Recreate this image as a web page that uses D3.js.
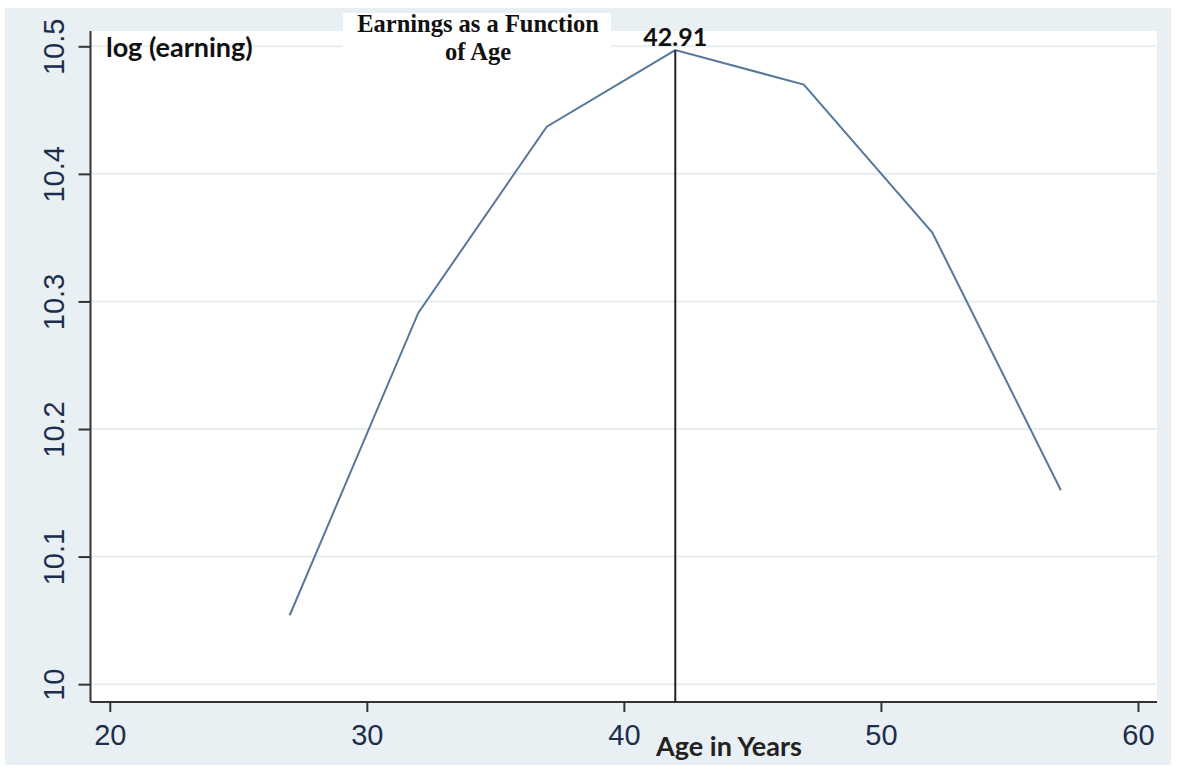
<!DOCTYPE html>
<html><head><meta charset="utf-8">
<script src="https://cdn.jsdelivr.net/npm/d3@7"></script>
<style>html,body{margin:0;padding:0;background:#fff;}svg{display:block;}</style>
</head><body>
<script>
// ---- data ----
const ages = [27, 32, 37, 42, 47, 52, 57];
const logEarnings = [10.054, 10.291, 10.437, 10.497, 10.470, 10.354, 10.152];
const xTicks = [20, 30, 40, 50, 60];
const yTicks = [10, 10.1, 10.2, 10.3, 10.4, 10.5];
const peakAge = 42;
const peakLabel = "42.91";
const yLabel = "log (earning)";
const xLabel = "Age in Years";
const titleLines = ["Earnings as a Function", "of Age"];

const W = 1177, H = 770;
const svg = d3.select("body").append("svg").attr("width", W).attr("height", H);

// outer panel
svg.append("rect").attr("x", 5).attr("y", 8).attr("width", 1166).attr("height", 757).attr("fill", "#e8f0f3");

const x = d3.scaleLinear().domain([19.25, 60.74]).range([90.5, 1157]);
const y = d3.scaleLinear().domain([9.986, 10.512]).range([702, 31]);

// plot region
svg.append("rect").attr("x", x(19.25)).attr("y", y(10.512)).attr("width", x(60.74) - x(19.25)).attr("height", y(9.986) - y(10.512)).attr("fill", "#ffffff");

// gridlines
svg.append("g").selectAll("line").data(yTicks).join("line")
  .attr("x1", x(19.25)).attr("x2", x(60.74))
  .attr("y1", d => y(d)).attr("y2", d => y(d))
  .attr("stroke", "#e6eeef").attr("stroke-width", 2);

const tickColor = "#1f2d4d";
// y axis
const yAxis = svg.append("g").attr("transform", `translate(${x(19.25)},0)`)
  .call(d3.axisLeft(y).tickValues(yTicks).tickSize(12).tickFormat(d => d3.format("")(d)));
yAxis.select(".domain").attr("stroke", "#333").attr("stroke-width", 2).attr("d", `M0,${y(10.512)}V${y(9.986)}`);
yAxis.selectAll(".tick line").attr("stroke", "#333").attr("stroke-width", 2);
yAxis.selectAll(".tick text").attr("transform", "rotate(-90)").attr("x", 0).attr("y", -27).attr("dy", 0)
  .attr("text-anchor", "middle").attr("font-family", "Liberation Sans, Arial, sans-serif").attr("font-size", 29).attr("fill", tickColor);

// x axis
const xAxis = svg.append("g").attr("transform", `translate(0,${y(9.986)})`)
  .call(d3.axisBottom(x).tickValues(xTicks).tickSize(10).tickFormat(d3.format("d")));
xAxis.select(".domain").attr("stroke", "#333").attr("stroke-width", 2).attr("d", `M${x(19.25)},0H${x(60.74)}`);
xAxis.selectAll(".tick line").attr("stroke", "#333").attr("stroke-width", 2);
xAxis.selectAll(".tick text").attr("y", 43).attr("dy", 0)
  .attr("font-family", "Liberation Sans, Arial, sans-serif").attr("font-size", 29).attr("fill", tickColor);

// line
const pts = ages.map((a, i) => [a, logEarnings[i]]);
svg.append("path").datum(pts)
  .attr("d", d3.line().x(d => x(d[0])).y(d => y(d[1])))
  .attr("fill", "none").attr("stroke", "#56789a").attr("stroke-width", 2);

// vertical line at peak
const peakVal = logEarnings[ages.indexOf(peakAge)];
svg.append("line").attr("x1", x(peakAge)).attr("x2", x(peakAge))
  .attr("y1", y(peakVal)).attr("y2", y(9.986))
  .attr("stroke", "#222").attr("stroke-width", 2);

svg.append("text").attr("x", x(peakAge)).attr("y", y(peakVal) - 4).attr("text-anchor", "middle")
  .attr("font-family", "Lato, sans-serif").attr("font-weight", "bold").attr("font-size", 25).attr("fill", "#111")
  .text(peakLabel);

// y label
svg.append("text").attr("x", 106).attr("y", 57)
  .attr("font-family", "Lato, sans-serif").attr("font-weight", "bold").attr("font-size", 27).attr("fill", "#111")
  .text(yLabel);

// title box
svg.append("rect").attr("x", 343).attr("y", 13).attr("width", 268).attr("height", 52).attr("fill", "#fff");
titleLines.forEach((t, i) => {
  svg.append("text").attr("x", 478).attr("y", 32 + i * 28).attr("text-anchor", "middle")
    .attr("font-family", "Liberation Serif, Times New Roman, serif").attr("font-weight", "bold").attr("font-size", 24.5).attr("fill", "#111")
    .text(t);
});

// x label
svg.append("text").attr("x", 729).attr("y", 756).attr("text-anchor", "middle")
  .attr("font-family", "Lato, sans-serif").attr("font-weight", "bold").attr("font-size", 27).attr("fill", "#222")
  .text(xLabel);
</script>
</body></html>
